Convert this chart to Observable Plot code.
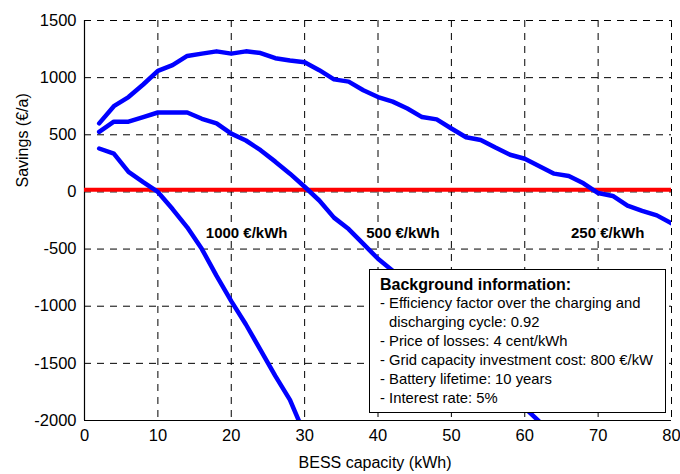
<!DOCTYPE html>
<html><head><meta charset="utf-8">
<script src="https://cdn.jsdelivr.net/npm/d3@7"></script>
<script src="https://cdn.jsdelivr.net/npm/@observablehq/plot@0.6"></script>
<style>
body{margin:0;background:#fff;}
#wrap{position:relative;width:680px;height:474px;font-family:"Liberation Sans",Arial,sans-serif;}
#legend{position:absolute;left:369px;top:269px;width:297px;height:144px;box-sizing:border-box;border:1px solid #000;background:#fff;padding:5px 0 0 10px;font-size:14.8px;line-height:19px;color:#000;white-space:pre;}
#legend .h{font-weight:bold;font-size:16px;}
#legend .i{padding-left:9px;text-indent:-9px;}
</style></head>
<body><div id="wrap"><div id="chart"></div><div id="legend"></div></div>
<script>
// BESS capacity (kWh)
const capacity250 = [2,4,6,8,10,12,14,16,18,20,22,24,26,28,30,32,34,36,38,40,42,44,46,48,50,52,54,56,58,60,62,64,66,68,70,72,74,76,78,80];
const savings250  = [600,750,830,940,1060,1110,1190,1210,1230,1210,1230,1215,1170,1150,1135,1065,985,965,890,830,790,730,655,635,555,478,455,388,325,290,225,160,140,75,-10,-35,-120,-165,-205,-275];
const capacity500 = [2,4,6,8,10,12,14,16,18,20,22,24,26,28,30,32,34,36,38,40,42,44,46,48,50,52,54,56,58,60,62];
const savings500  = [525,615,615,655,695,695,695,640,600,510,450,365,265,160,45,-75,-225,-325,-455,-585,-690,-820,-950,-1080,-1210,-1340,-1470,-1610,-1745,-1890,-2010];
const capacity1000 = [2,4,6,8,10,12,14,16,18,20,22,24,26,28,30];
const savings1000  = [380,335,175,85,0,-150,-310,-500,-735,-955,-1160,-1385,-1610,-1820,-2120];
const breakEven = [20];
const xTicks = [0,10,20,30,40,50,60,70,80];
const yTicks = [-2000,-1500,-1000,-500,0,500,1000,1500];
const curveLabels = ["1000 €/kWh","500 €/kWh","250 €/kWh"];
const curveLabelX = [22.1,43.4,71.3];
const curveLabelY = [-360,-360,-360];
const xLabel = "BESS capacity (kWh)";
const yLabel = "Savings (€/a)";
const legendTitle = "Background information:";
const legendItems = [
  "- Efficiency factor over the charging and\ndischarging cycle: 0.92",
  "- Price of losses: 4 cent/kWh",
  "- Grid capacity investment cost: 800 €/kW",
  "- Battery lifetime: 10 years",
  "- Interest rate: 5%"
];

const rows = (xs, ys) => xs.map((x, i) => ({x, y: ys[i]}));
const dash = {stroke: "#000", strokeOpacity: 1, strokeWidth: 1, strokeDasharray: "7,6"};
const blue = {x: "x", y: "y", stroke: "#0000ff", strokeWidth: 4.5, clip: true};

const chart = Plot.plot({
  width: 680, height: 474,
  marginLeft: 84, marginRight: 9, marginTop: 20, marginBottom: 54,
  style: {fontFamily: "'Liberation Sans', Arial, sans-serif", fontSize: "16px", color: "#000", background: "#fff"},
  x: {domain: [0, 80], label: null},
  y: {domain: [-2000, 1500], label: null},
  marks: [
    Plot.gridX({ticks: xTicks.filter(d => d !== 0), ...dash}),
    Plot.gridY({ticks: yTicks.filter(d => d !== -2000), ...dash}),
    Plot.ruleX([0], {stroke: "#000", strokeWidth: 1.2}),
    Plot.ruleY([-2000], {stroke: "#000", strokeWidth: 1.2}),
    Plot.axisX({ticks: xTicks, tickSize: 0, tickPadding: 9, fontSize: 16.5, label: null}),
    Plot.axisY({ticks: yTicks, tickSize: 0, tickPadding: 8, fontSize: 16.5, tickFormat: d => String(d), label: null}),
    Plot.text(curveLabels, {x: (d, i) => curveLabelX[i], y: (d, i) => curveLabelY[i], text: d => d,
      fontWeight: "bold", fontSize: 15, fill: "#000", stroke: "#fff", strokeWidth: 6, paintOrder: "stroke"}),
    Plot.ruleY(breakEven, {stroke: "#ff0000", strokeWidth: 4}),
    Plot.line(rows(capacity1000, savings1000), blue),
    Plot.line(rows(capacity500, savings500), blue),
    Plot.line(rows(capacity250, savings250), blue),
    Plot.text([yLabel], {frameAnchor: "left", rotate: -90, dx: -62, dy: -33, fontSize: 16, fill: "#000"}),
    Plot.text([xLabel], {frameAnchor: "bottom", dx: -3, dy: 47, fontSize: 16, fill: "#000"})
  ]
});
document.getElementById("chart").append(chart);

const legend = document.getElementById("legend");
const h = document.createElement("div");
h.className = "h"; h.textContent = legendTitle; legend.append(h);
for (const t of legendItems) {
  const d = document.createElement("div");
  d.className = "i"; d.textContent = t; legend.append(d);
}
</script>
</body></html>
